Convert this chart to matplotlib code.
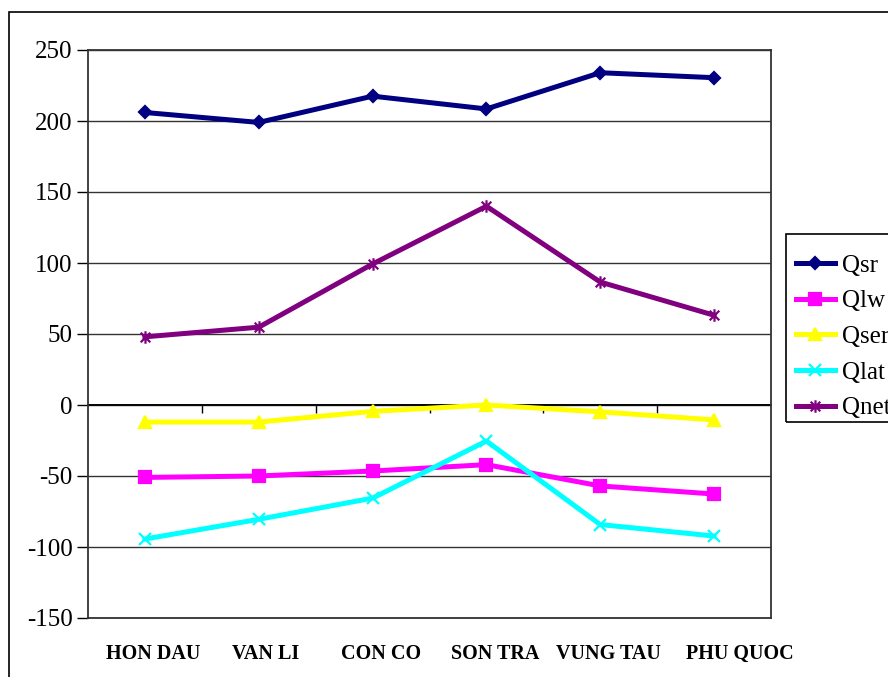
import matplotlib
matplotlib.use("Agg")
import matplotlib.pyplot as plt
from matplotlib.patches import Rectangle
from matplotlib.path import Path
from matplotlib.transforms import ScaledTranslation

stations = ["HON DAU", "VAN LI", "CON CO", "SON TRA", "VUNG TAU", "PHU QUOC"]
q_sr = [206, 199, 217.5, 208.5, 234, 230.5]
q_lw = [-51, -50, -46.5, -42, -57, -62.7]
q_ser = [-12, -12, -4.5, 0, -4.8, -10.5]
q_lat = [-94.4, -80.5, -65.6, -25.4, -84.2, -92.3]
q_net = [48, 54.8, 99.3, 140, 86.6, 63.2]

y_ticks = [-150, -100, -50, 0, 50, 100, 150, 200, 250]

# asterisk marker: an x with a vertical stroke through it
star = Path([(-1, -1), (1, 1), (-1, 1), (1, -1), (0, -1.3), (0, 1.3)],
            [Path.MOVETO, Path.LINETO, Path.MOVETO, Path.LINETO,
             Path.MOVETO, Path.LINETO])

series = [
    ("Qsr", q_sr, "#000080", "D", 6),
    ("Qlw", q_lw, "#FF00FF", "s", 8),
    ("Qser", q_ser, "#FFFF00", "^", 9),
    ("Qlat", q_lat, "#00FFFF", "x", 9),
    ("Qnet", q_net, "#800080", star, 9),
]

plt.rcParams["font.family"] = ["Liberation Serif", "DejaVu Serif"]

W, H = 888, 677
fig = plt.figure(figsize=(W / 100, H / 100), dpi=100)
ax = fig.add_axes([88 / W, 59 / H, 683 / W, 568 / H])

x = list(range(len(stations)))
for name, vals, color, marker, ms in series:
    ax.plot(x, vals, color=color, lw=3.6, marker=marker, markersize=ms,
            markeredgewidth=1.6, markerfacecolor=color, markeredgecolor=color,
            label=name, zorder=3, clip_on=False)

ax.set_xlim(-0.5, len(stations) - 0.5)
ax.set_ylim(-150, 250)
ax.set_yticks(y_ticks)
ax.set_yticklabels([str(v) for v in y_ticks], fontsize=18)
ax.tick_params(axis="y", direction="out", length=8, width=1, pad=3)
ax.yaxis.grid(True, color="#333333", lw=1)
ax.set_axisbelow(True)

# category labels sit below the plot area, nudged right
ax.set_xticks(x)
ax.set_xticklabels(stations, fontsize=14.5, fontweight="bold")
ax.tick_params(axis="x", length=0, pad=19)
label_nudge_px = [8, 7, 8, 9, 8, 26]
for lbl, dx in zip(ax.get_xticklabels(), label_nudge_px):
    lbl.set_transform(lbl.get_transform()
                      + ScaledTranslation(dx / 100, 0, fig.dpi_scale_trans))

# category axis line crossing at zero with boundary tick marks
zero_frac = (0 - (-150)) / 400
sec = ax.secondary_xaxis(zero_frac)
sec.set_xticks([i + 0.5 for i in range(len(stations) - 1)])
sec.set_xticklabels([])
sec.tick_params(direction="out", length=6, width=1)
sec.spines["bottom"].set_linewidth(1.2)
ax.axhline(0, color="black", lw=1.2, zorder=2)

for sp in ax.spines.values():
    sp.set_color("#333333")
    sp.set_linewidth(1.3)

# legend box runs past the right edge of the chart
fig.patches.append(Rectangle((786 / W, 1 - 422 / H), 0.3, 188 / H,
                             transform=fig.transFigure, fill=False,
                             edgecolor="black", lw=1.2))
fig.legend(loc="upper left", bbox_to_anchor=(796 / W, 1 - 254 / H),
           fontsize=18, frameon=False, handlelength=1.55,
           handletextpad=0.3, labelspacing=0.53,
           borderpad=0, borderaxespad=0)

# outer chart frame
fig.patches.append(Rectangle((9 / W, -0.05), 1.2, 1 - 12 / H + 0.05,
                             transform=fig.transFigure, fill=False,
                             edgecolor="black", lw=1.2))

fig.savefig("out.png", dpi=100)
